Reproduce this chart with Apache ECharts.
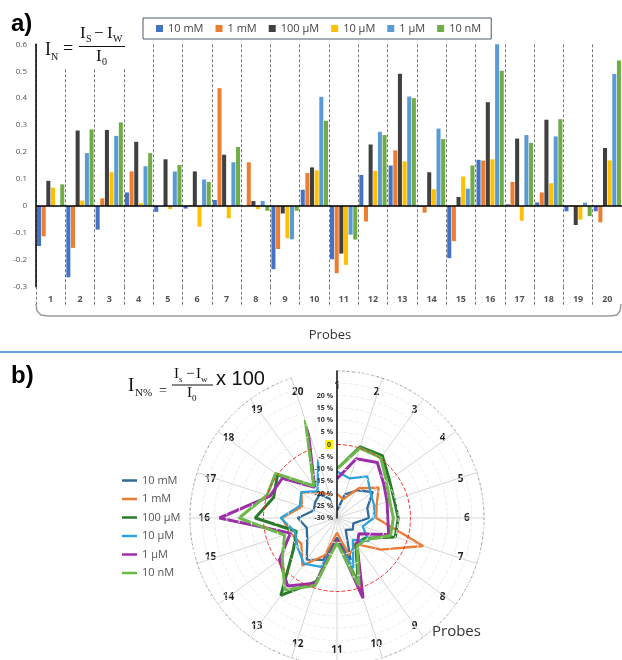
<!DOCTYPE html>
<html><head><meta charset="utf-8">
<script src="https://cdn.jsdelivr.net/npm/echarts@6/dist/echarts.min.js"></script>
<style>html,body{margin:0;padding:0;background:#fff}#c{width:622px;height:660px}</style>
</head><body><div id="c"></div>
<script>
// ---------- data ----------
const probes = ['1','2','3','4','5','6','7','8','9','10','11','12','13','14','15','16','17','18','19','20'];
const seriesNames = ['10 mM','1 mM','100 μM','10 μM','1 μM','10 nM'];

// panel a: I_N values per probe
const bar10mM  = [-0.149,-0.265,-0.088,0.050,-0.022,-0.010,0.022,0.000,-0.235,0.060,-0.198,0.115,0.150,-0.003,-0.194,0.171,0.006,0.013,-0.020,-0.020];
const bar1mM   = [-0.113,-0.156,0.028,0.128,0.000,0.003,0.437,0.162,-0.160,0.122,-0.250,-0.058,0.206,-0.025,-0.131,0.168,0.089,0.050,0.003,-0.061];
const bar100uM = [0.093,0.280,0.282,0.238,0.173,0.128,0.190,0.018,-0.028,0.143,-0.177,0.228,0.491,0.125,0.033,0.385,0.250,0.320,-0.071,0.215];
const bar10uM  = [0.068,0.020,0.125,0.010,-0.012,-0.077,-0.046,-0.012,-0.120,0.132,-0.219,0.130,0.165,0.062,0.109,0.173,-0.055,0.084,-0.051,0.169];
const bar1uM   = [0.000,0.196,0.260,0.147,0.128,0.098,0.162,0.018,-0.124,0.405,-0.107,0.275,0.406,0.287,0.064,0.600,0.263,0.258,0.012,0.490];
const bar10nM  = [0.080,0.284,0.310,0.196,0.152,0.089,0.219,-0.018,-0.018,0.316,-0.125,0.263,0.400,0.248,0.150,0.502,0.234,0.322,-0.038,0.540];
const yTicks = {min:-0.3, max:0.6, interval:0.1};

// panel b: I_N% values per probe (radar)
const rad10mM  = [-27,-20,-16,-12,-17,-17,-23,-22,-24,-12,-22,-12,-9,-15,-17,-14,-20,-19,-18,-22];
const rad1mM   = [-20,-22,-15,-9,-13,-14,7,-8,-17,-14,-24,-14,-6,-12,-10,-7.5,-15,-12,-17,-20];
const rad100uM = [-10,0.5,1.5,-3.6,-5.5,-5,-5,-16,-17,-2,-21,-2.8,9,-8,-12.5,3.4,-2.8,0,-14,10];
const rad10uM  = [-11,-13,-9,-13,-14,-15,-19,-14,-19,-8.5,-20,-9,-7,-10,-12,-7,-14,-12,-16.5,-5];
const rad1uM   = [-14,-4.6,-2,-6.4,-8.5,-9.3,-7.8,-19,-16,4.4,-21,-2,4.3,-1,-10,18,-1.2,-2.4,-14.5,8.5];
const rad10nM  = [-10,0,0.5,-5,-7.4,-7,-7,-15,-16,-1,-20,-1,6.3,-2.4,-7.5,10,0,1,-14,12];
const rTicks = {min:-30, max:30, interval:5, lastShown:20};

// ---------- styling ----------
const FONT = 'Open Sans';
const barColors = ['#4472C4','#ED7D31','#404040','#FFC000','#5B9BD5','#70AD47'];
const lineColors = ['#2f6c9a','#ec7b36','#2b7a2b','#2ba3dc','#9c2fa8','#6cb84a'];
const lineWidths = [2.3,2.3,3,2.3,3,3];
const barData = [bar10mM,bar1mM,bar100uM,bar10uM,bar1uM,bar10nM];
const radData = [rad10mM,rad1mM,rad100uM,rad10uM,rad1uM,rad10nM];

const chart = echarts.init(document.getElementById('c'));

const splitColors = [];
for (let v = rTicks.min; v <= rTicks.max + 1e-9; v += rTicks.interval) {
  splitColors.push(Math.abs(v) < 1e-9 ? '#f03030' : '#ececec');
}

function txt(x, y, text, size, family, extra) {
  return Object.assign({type:'text', x:x, y:y, z:101,
    style:{text:text, fontSize:size, fontFamily:family||'Liberation Serif', fill:'#111', align:'left', verticalAlign:'top'}}, extra||{});
}
function hline(x1, x2, y, color, w) {
  return {type:'line', z:101, shape:{x1:x1, y1:y, x2:x2, y2:y}, style:{stroke:color||'#111', lineWidth:w||1}};
}

const graphics = [
  txt(11, 12, 'a)', 24, 'Liberation Sans', {style:{text:'a)', fontSize:24, fontWeight:'bold', fontFamily:'Liberation Sans', fill:'#000'}}),
  txt(11, 364, 'b)', 24, 'Liberation Sans', {style:{text:'b)', fontSize:24, fontWeight:'bold', fontFamily:'Liberation Sans', fill:'#000'}}),
  {type:'rect', z:100, shape:{x:40, y:24, width:88, height:44}, style:{fill:'#fff'}},
  txt(45, 41, 'I', 18), txt(51, 52, 'N', 10),
  txt(63, 40, '=', 18),
  txt(80, 25, 'I', 17), txt(86, 34, 'S', 10), txt(94, 25, '−', 17), txt(107, 25, 'I', 17), txt(113, 34, 'W', 10),
  hline(79, 125, 46.5),
  txt(96, 48, 'I', 17), txt(102, 57, '0', 10),
  {type:'polyline', z:100, shape:{points:[[36,304],[37,311],[41,315],[48,316],[610,316],[617,315],[620,311],[621,304]]},
    style:{stroke:'#9a9a9a', lineWidth:1.5, fill:null}},
  {type:'text', z:101, x:330, y:329, style:{text:'Probes', fontSize:13, fontFamily:FONT, fill:'#333', align:'center', verticalAlign:'top'}},
  hline(0, 622, 352, '#3a87c8', 1.5),
  txt(128, 377, 'I', 19), txt(135, 388, 'N%', 11),
  txt(159, 384, '=', 14),
  txt(174, 367, 'I', 15), txt(179, 375, 's', 9), txt(186, 367, '−', 15), txt(196, 367, 'I', 15), txt(201, 375, 'w', 9),
  hline(172, 213, 385),
  txt(187, 386, 'I', 15), txt(192, 394, '0', 9),
  txt(216, 369, 'x 100', 20, 'Liberation Sans'),
  {type:'text', z:101, x:432, y:624, style:{text:'Probes', fontSize:15, fontFamily:FONT, fill:'#333', align:'left', verticalAlign:'top'}}
];

const series = [];
seriesNames.forEach((n, i) => {
  const s = {type:'bar', name:n, data:barData[i], xAxisIndex:0, yAxisIndex:0,
    itemStyle:{color:barColors[i]}, barGap:'15%', barCategoryGap:'7%'};
  if (i === 0) s.markLine = {silent:true, symbol:'none', label:{show:false},
    lineStyle:{color:'#000', type:'solid', width:1.5}, data:[{yAxis:0}]};
  series.push(s);
});
seriesNames.forEach((n, i) => {
  const pts = radData[i].map((v, k) => [v, k]);
  pts.push([radData[i][0], 0]);
  series.push({type:'line', name:n + ' ', coordinateSystem:'polar', data:pts, symbol:'none',
    lineStyle:{color:lineColors[i], width:lineWidths[i]}, itemStyle:{color:lineColors[i]}, z:3});
});

chart.setOption({
  animation:false,
  textStyle:{fontFamily:FONT},
  graphic:graphics,
  legend:[
    {data:seriesNames, top:18, left:143, itemWidth:7, itemHeight:7, itemGap:12, icon:'rect',
     borderColor:'#4d5b6b', borderWidth:1, padding:[5,10,5,13],
     textStyle:{fontSize:11, color:'#444', fontFamily:FONT}},
    {data:seriesNames.map(n => n + ' '), orient:'vertical', left:117, top:470, itemWidth:15, itemHeight:2.5, itemGap:7.5,
     icon:'rect', formatter:n => n.trim(), textStyle:{fontSize:11, color:'#555', fontFamily:FONT}}
  ],
  grid:{left:36, right:0, top:44.3, bottom:373.3},
  xAxis:{type:'category', data:probes,
    axisLine:{show:false, onZero:false},
    axisTick:{show:true, interval:0, length:20, lineStyle:{type:[3,2], color:'#777'}},
    axisLabel:{interval:0, fontSize:9, fontWeight:'bold', color:'#555', margin:8},
    splitLine:{show:true, interval:0, lineStyle:{type:[3,2], color:'#777'}}},
  yAxis:{type:'value', min:yTicks.min, max:yTicks.max, interval:yTicks.interval,
    axisLine:{show:true, lineStyle:{color:'#000', width:1.5}}, axisTick:{show:false}, splitLine:{show:false},
    axisLabel:{fontSize:8, color:'#555', margin:9}},
  polar:{center:[337, 518], radius:147},
  angleAxis:{type:'category', data:probes, boundaryGap:false, startAngle:90, clockwise:true,
    axisLine:{show:true, lineStyle:{color:'#8a8a8a', type:[3,2], width:1}},
    axisTick:{show:false},
    axisLabel:{margin:-20, fontSize:10, fontWeight:'bold', color:'#222'},
    splitLine:{show:true, lineStyle:{color:'#d5d5d5', width:1}}},
  radiusAxis:{type:'value', min:rTicks.min, max:rTicks.max, interval:rTicks.interval, z:10,
    axisLine:{show:true, lineStyle:{color:'#111', width:1.5}}, axisTick:{show:false},
    axisLabel:{fontSize:7, fontWeight:'bold', color:'#333', margin:4,
      formatter:v => v > rTicks.lastShown ? '' : (v === 0 ? '{y|0}' : v + ' %'),
      rich:{y:{backgroundColor:'#fff200', fontSize:7, fontWeight:'bold', color:'#333', padding:[1,2]}}},
    splitLine:{show:true, lineStyle:{color:splitColors, width:1, type:[4,2]}}},
  series:series
});
</script></body></html>
